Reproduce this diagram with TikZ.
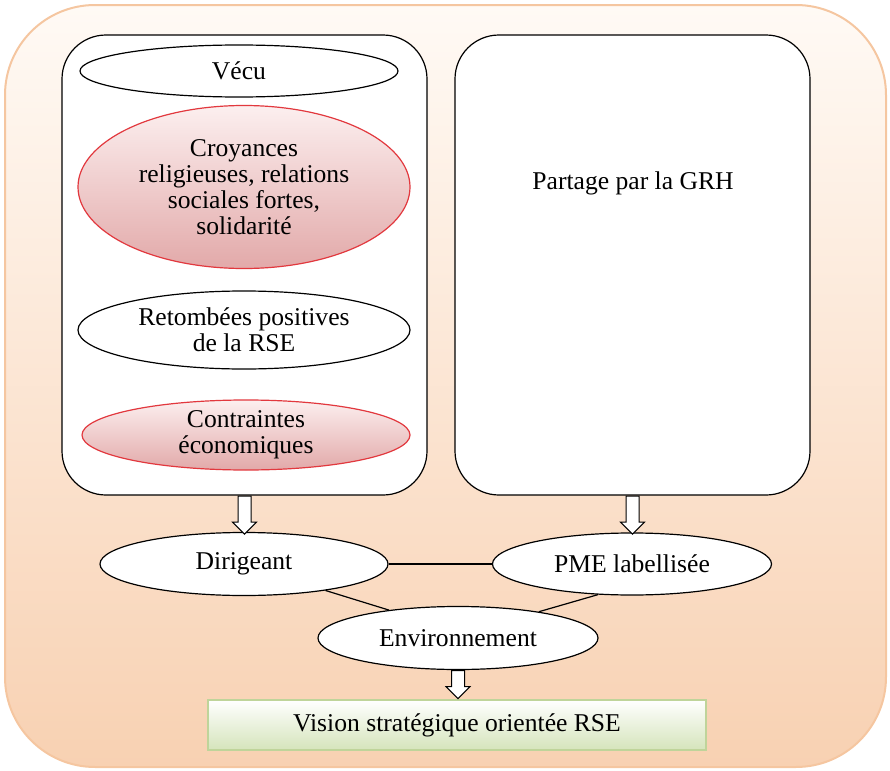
\documentclass[tikz,border=0pt]{standalone}
\usepackage{fontspec}
\setmainfont{Liberation Serif}
\usepackage{tikz}
\usetikzlibrary{shapes.geometric,shapes.arrows}
\definecolor{peachtop}{HTML}{FFFAF5}
\definecolor{peachbot}{HTML}{F8D1B2}
\definecolor{peachline}{HTML}{F5C6A0}
\definecolor{redline}{HTML}{E2383E}
\definecolor{pinktop}{HTML}{FCEFEF}
\definecolor{pinkbot}{HTML}{E2A9A9}
\definecolor{greenbot}{HTML}{D5E4BB}
\definecolor{greenline}{HTML}{BFD49A}

\begin{document}
\begin{tikzpicture}[
  x=0.5pt, y=-0.5pt,
  every node/.style={font=\fontsize{12.8}{13}\selectfont},
  box/.style={
    draw, fill=white, line width=0.6pt,
    rounded corners=22pt, inner sep=0pt
  },
  ell/.style={
    ellipse, draw, fill=white, line width=0.6pt,
    inner sep=0pt, align=center
  },
  redell/.style={ell, draw=redline, top color=pinktop, bottom color=pinkbot},
  blk/.style={
    single arrow, draw, fill=white, line width=0.5pt,
    rotate=-90, anchor=tail, inner sep=3pt,
    minimum width=11.5pt, single arrow head extend=2.75pt,
    minimum height=19pt
  }
]
  \useasboundingbox (0,0) rectangle (890,771);
  \draw[draw=peachline, line width=1pt, rounded corners=45pt,
    top color=peachtop, bottom color=peachbot] (5,5) rectangle (886,767);

  \node[box, minimum width=182.5pt, minimum height=230pt] (lbox) at (244.5,265) {};
  \node[box, minimum width=177.5pt, minimum height=230pt] (rbox) at (632.5,265) {};

  \node[ell, minimum width=159pt, minimum height=26pt] (vecu) at (239,71) {Vécu};
  \node[redell, minimum width=166pt, minimum height=81.5pt] (croy) at (244,187)
    {Croyances\\religieuses, relations\\sociales fortes,\\solidarité};
  \node[ell, minimum width=166pt, minimum height=39pt] (ret) at (244,330)
    {Retombées positives\\de la RSE};
  \node[redell, minimum width=164pt, minimum height=35pt] (contr) at (246,435)
    {Contraintes\\économiques};
  \node (grh) at (633,183) {Partage par la GRH};

  \node[ell, minimum width=144pt, minimum height=31.5pt] (dir) at (244,564) {Dirigeant};
  \node[ell, minimum width=139.5pt, minimum height=31pt] (pme) at (632,564) {PME labellisée};
  \node[ell, minimum width=140pt, minimum height=31.5pt] (env) at (458,638) {Environnement};
  \node[draw=greenline, line width=0.6pt, top color=white, bottom color=greenbot,
    minimum width=249pt, minimum height=25pt] (vis) at (457,725)
    {Vision stratégique orientée RSE};

  \node[blk] (a1) at (lbox.south) {};
  \node[blk] (a2) at (rbox.south) {};
  \node[blk, minimum height=14pt] (a3) at (env.south) {};

  \draw[line width=0.6pt] (dir.east) -- (pme.west);
  \draw[line width=0.6pt] (dir.-18) -- (env.158);
  \draw[line width=0.6pt] (pme.222) -- (env.18);
\end{tikzpicture}
\end{document}
